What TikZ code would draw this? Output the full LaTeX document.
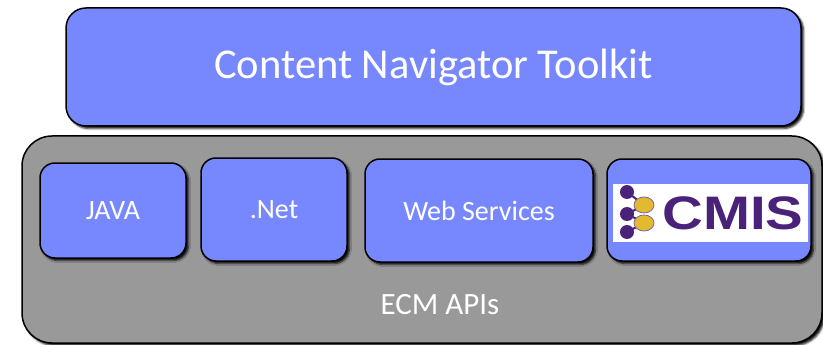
\documentclass[tikz,border=0pt]{standalone}
\usepackage{fontspec}
\setmainfont{Carlito}
\newfontfamily\cmisfont{Liberation Sans}
\usetikzlibrary{shadows.blur}
\definecolor{apiblue}{RGB}{119,136,255}
\definecolor{apigray}{RGB}{153,153,153}
\definecolor{cmispurple}{RGB}{74,34,122}
\definecolor{cmisyellow}{RGB}{226,186,48}

\begin{document}
\begin{tikzpicture}
  [x=1pt,y=-1pt,
   box/.style={draw=black,line width=1.5pt,text=white,inner sep=0pt,
     blur shadow={shadow xshift=2.5pt,shadow yshift=-2.5pt,shadow blur radius=2pt,shadow opacity=95}},
   layer/.style={box,fill=apiblue,rounded corners=20pt,font=\fontsize{42.5}{50}\selectfont},
   api/.style={box,fill=apiblue,rounded corners=15pt,font=\fontsize{28}{34}\selectfont}]
  \useasboundingbox (0,0) rectangle (823,345);

  \node[layer, minimum width=735pt, minimum height=118pt] (toolkit) at (433.5,67) {Content Navigator Toolkit};
  \node[box, fill=apigray, rounded corners=30pt, minimum width=800pt, minimum height=207pt] (ecm) at (422,239.5) {};
  \node[text=white, font=\fontsize{31}{37}\selectfont] (ecmlabel) at (440,305) {ECM APIs};

  \node[api, minimum width=146pt, minimum height=95pt]  (java) at (113,210.5) {JAVA};
  \node[api, minimum width=146pt, minimum height=103pt] (net)  at (274,209.5) {.Net};
  \node[api, minimum width=228pt, minimum height=103pt] (ws)   at (479,210.5) {Web Services};
  \node[api, minimum width=204pt, minimum height=102pt] (cmis) at (709,210) {};

  % CMIS logo
  \node[fill=white, minimum width=195pt, minimum height=58pt, inner sep=0pt] (logo) at (710.5,213) {};
  \node[text=cmispurple, font=\cmisfont\fontsize{47}{47}\bfseries\selectfont,
        inner sep=0pt] (cmistext) at (733,213) {\scalebox{1.2}[1]{CMIS}};
  \coordinate (d1) at (627,192);
  \coordinate (d2) at (627,214);
  \coordinate (d3) at (627,232);
  \coordinate (y1) at (644,205);
  \coordinate (y2) at (644,223);
  \foreach \from/\to in {d1/y1, d2/y1, d2/y2, d3/y2}
    \draw[cmispurple, line width=2pt] (\from) -- (\to);
  \foreach \c in {y1, y2}
    \fill[cmisyellow, draw=cmispurple!70, line width=0.8pt] (\c) ellipse (10pt and 8pt);
  \foreach \c in {d1, d2, d3}
    \fill[cmispurple] (\c) circle (7pt);
\end{tikzpicture}
\end{document}
